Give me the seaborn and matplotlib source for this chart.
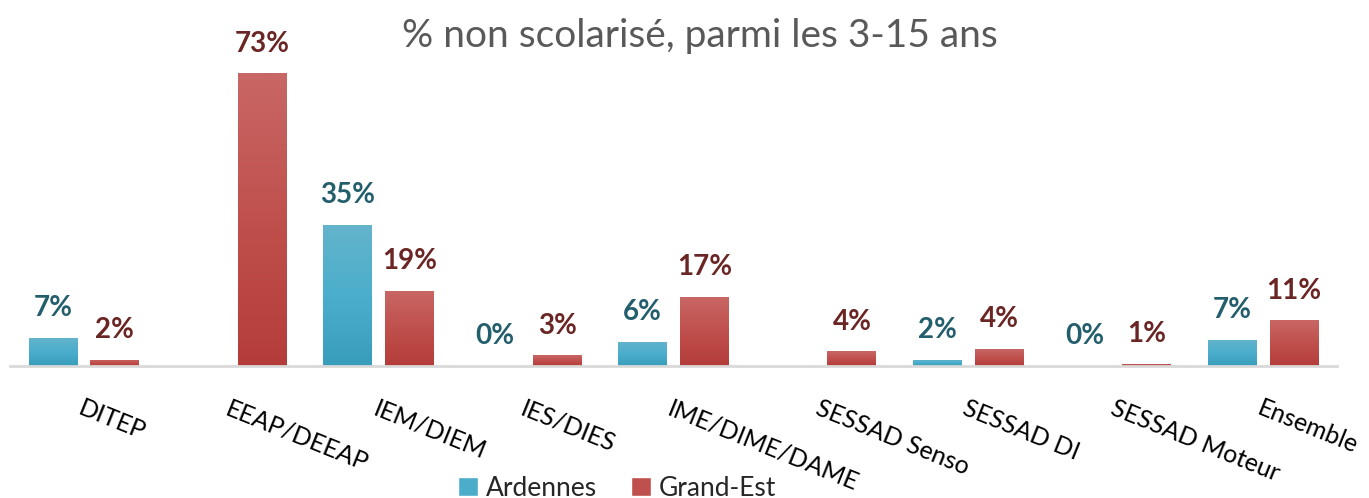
import numpy as np
import pandas as pd
import matplotlib
matplotlib.use("Agg")
import matplotlib.pyplot as plt
from matplotlib.colors import LinearSegmentedColormap
import seaborn as sns

categories = ["DITEP", "EEAP/DEEAP", "IEM/DIEM", "IES/DIES", "IME/DIME/DAME",
              "SESSAD Senso", "SESSAD DI", "SESSAD Moteur", "Ensemble"]
ardennes = [7.0, np.nan, 35.2, 0.0, 6.0, np.nan, 1.6, 0.0, 6.6]
grand_est = [1.6, 72.9, 18.7, 2.7, 17.2, 3.7, 4.2, 0.6, 11.4]
series = ["Ardennes", "Grand-Est"]

df = pd.DataFrame({
    "categorie": categories * 2,
    "serie": [series[0]] * len(categories) + [series[1]] * len(categories),
    "valeur": ardennes + grand_est,
})

sns.set_style("white")
plt.rcParams["font.family"] = ["Lato", "DejaVu Sans"]

bar_colors = {"Ardennes": "#4BADCA", "Grand-Est": "#C0504D"}
# degrades haut -> bas, comme dans le graphique d'origine
gradients = [["#64B4CB", "#4BAECC", "#389DBB"],
             ["#C86765", "#C0504D", "#B43D3A"]]
label_colors = ["#235E6D", "#6A2624"]

fig = plt.figure(figsize=(13.69, 4.98), dpi=100)
ax = fig.add_axes([0.0075, 0.265, 0.969, 0.645])

sns.barplot(data=df, x="categorie", y="valeur", hue="serie", order=categories,
            hue_order=series, palette=bar_colors, width=0.84, gap=0.21,
            errorbar=None, saturation=1, ax=ax, legend=True)

ax.set_ylim(0, 80)
ax.set_xlim(-0.5, len(categories) - 0.5)

grad = np.linspace(0, 1, 100).reshape(-1, 1)
for cont, stops in zip(ax.containers, gradients):
    cmap = LinearSegmentedColormap.from_list("g", stops)
    for p in cont.patches:
        if p.get_height() <= 0:
            continue
        x0, y0 = p.get_x(), p.get_y()
        im = ax.imshow(grad, cmap=cmap, aspect="auto", origin="upper",
                       extent=[x0, x0 + p.get_width(), y0, y0 + p.get_height()],
                       zorder=p.get_zorder())
        im.set_clip_path(p)
        p.set_facecolor("none")

for cont, col in zip(ax.containers, label_colors):
    labels = [f"{v:.0f}%" for v in cont.datavalues]
    ax.bar_label(cont, labels=labels, padding=12, color=col,
                 fontsize=20, fontweight="bold")

ax.set_ylim(0, 80)
ax.set_xlim(-0.5, len(categories) - 0.5)
ax.set_xlabel("")
ax.set_ylabel("")
ax.set_yticks([])
for s in ["top", "left", "right"]:
    ax.spines[s].set_visible(False)
ax.spines["bottom"].set_color("#D9D9D9")
ax.spines["bottom"].set_linewidth(2)
ax.spines["bottom"].set_zorder(5)

ax.tick_params(axis="x", length=0, pad=22)
ax.set_xticks(range(len(categories)))
ax.set_xticklabels(categories, rotation=-22, ha="left", va="top",
                   rotation_mode="anchor", fontsize=18, color="black")

handles, lbls = ax.get_legend_handles_labels()
for h, c in zip(handles, bar_colors.values()):
    h.set_facecolor(c)
ax.legend_.remove()
fig.legend(handles, lbls, loc="center", bbox_to_anchor=(0.451, 0.02), ncol=2,
           frameon=False, fontsize=19, handlelength=0.75, handleheight=0.75,
           columnspacing=1.3, handletextpad=0.3)

fig.text(0.511, 0.928, "% non scolarisé, parmi les 3-15 ans", ha="center",
         va="center", fontsize=28, color="#595959")

fig.savefig("out.png", dpi=100)
